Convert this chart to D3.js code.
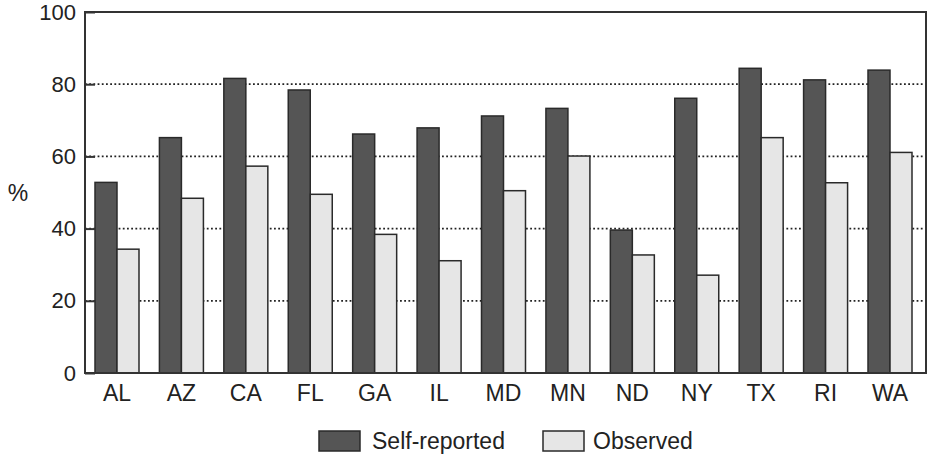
<!DOCTYPE html>
<html>
<head>
<meta charset="utf-8">
<script src="https://cdn.jsdelivr.net/npm/d3@7/dist/d3.min.js"></script>
<style>
  html, body { margin: 0; padding: 0; background: #fff; }
  text { font-family: "Liberation Sans", Arial, Helvetica, sans-serif; fill: #222; }
</style>
</head>
<body>
<svg id="chart" width="931" height="455"></svg>
<script>
const states = ["AL","AZ","CA","FL","GA","IL","MD","MN","ND","NY","TX","RI","WA"];
const selfReported = [52.8,65.2,81.6,78.4,66.2,67.9,71.2,73.3,39.6,76.1,84.4,81.2,83.9];
const observed = [34.3,48.4,57.3,49.5,38.4,31.1,50.5,60.1,32.7,27.1,65.2,52.7,61.1];
const seriesNames = ["Self-reported","Observed"];
const yTicks = [0,20,40,60,80,100];

const colors = {"Self-reported": "#555555", "Observed": "#e6e6e6"};
const svg = d3.select("#chart");
const frame = {left: 85, top: 12, right: 926, bottom: 373};

const x = d3.scaleBand().domain(states).range([95, 912]).paddingInner(0.317).paddingOuter(0);
const xs = d3.scaleBand().domain(seriesNames).range([0, x.bandwidth()]).padding(0);
const y = d3.scaleLinear().domain([0,100]).range([frame.bottom, frame.top]);

// gridlines
svg.append("g").selectAll("line").data(yTicks.filter(t => t > 0 && t < 100)).join("line")
  .attr("x1", frame.left).attr("x2", frame.right)
  .attr("y1", d => y(d)).attr("y2", d => y(d))
  .attr("stroke", "#222").attr("stroke-width", 1.8)
  .attr("stroke-dasharray", "1.8,2.4");

// bars
const rows = states.map((s, i) => ({state: s, values: [
  {name: "Self-reported", v: selfReported[i]},
  {name: "Observed", v: observed[i]}]}));

const g = svg.append("g").selectAll("g").data(rows).join("g")
  .attr("transform", d => `translate(${x(d.state)},0)`);
g.selectAll("rect").data(d => d.values).join("rect")
  .attr("x", d => xs(d.name))
  .attr("width", xs.bandwidth())
  .attr("y", d => y(d.v))
  .attr("height", d => y(0) - y(d.v))
  .attr("fill", d => colors[d.name])
  .attr("stroke", "#2a2a2a").attr("stroke-width", 1.5);

// frame
svg.append("rect")
  .attr("x", frame.left).attr("y", frame.top)
  .attr("width", frame.right - frame.left).attr("height", frame.bottom - frame.top)
  .attr("fill", "none").attr("stroke", "#333").attr("stroke-width", 2);

// y axis
const yAxis = d3.axisLeft(y).tickValues(yTicks).tickSizeInner(-10).tickSizeOuter(0).tickPadding(9);
const ya = svg.append("g").attr("transform", `translate(${frame.left},0)`).call(yAxis);
ya.select(".domain").remove();
ya.selectAll(".tick line").attr("stroke", "#333").attr("stroke-width", 2);
ya.selectAll(".tick text").attr("font-size", 22).style("font-family", "'Liberation Sans', Arial, sans-serif").attr("fill", "#222");

// x axis labels
const xa = svg.append("g").attr("transform", `translate(0,${frame.bottom})`)
  .call(d3.axisBottom(x).tickSize(0).tickPadding(12));
xa.select(".domain").remove();
xa.selectAll(".tick text").attr("font-size", 23).style("font-family", "'Liberation Sans', Arial, sans-serif").attr("fill", "#222");

// y label
svg.append("text").attr("x", 18).attr("y", 201).attr("text-anchor", "middle")
  .attr("font-size", 23).text("%");

// legend
const legendPos = [{sx: 319, tx: 372}, {sx: 543, tx: 593}];
const lg = svg.append("g").selectAll("g").data(seriesNames).join("g");
lg.append("rect")
  .attr("x", (d, i) => legendPos[i].sx).attr("y", 431)
  .attr("width", 41).attr("height", 20)
  .attr("fill", d => colors[d]).attr("stroke", "#2a2a2a").attr("stroke-width", 1.5);
lg.append("text")
  .attr("x", (d, i) => legendPos[i].tx).attr("y", 448.5)
  .attr("font-size", 23).text(d => d);
</script>
</body>
</html>
